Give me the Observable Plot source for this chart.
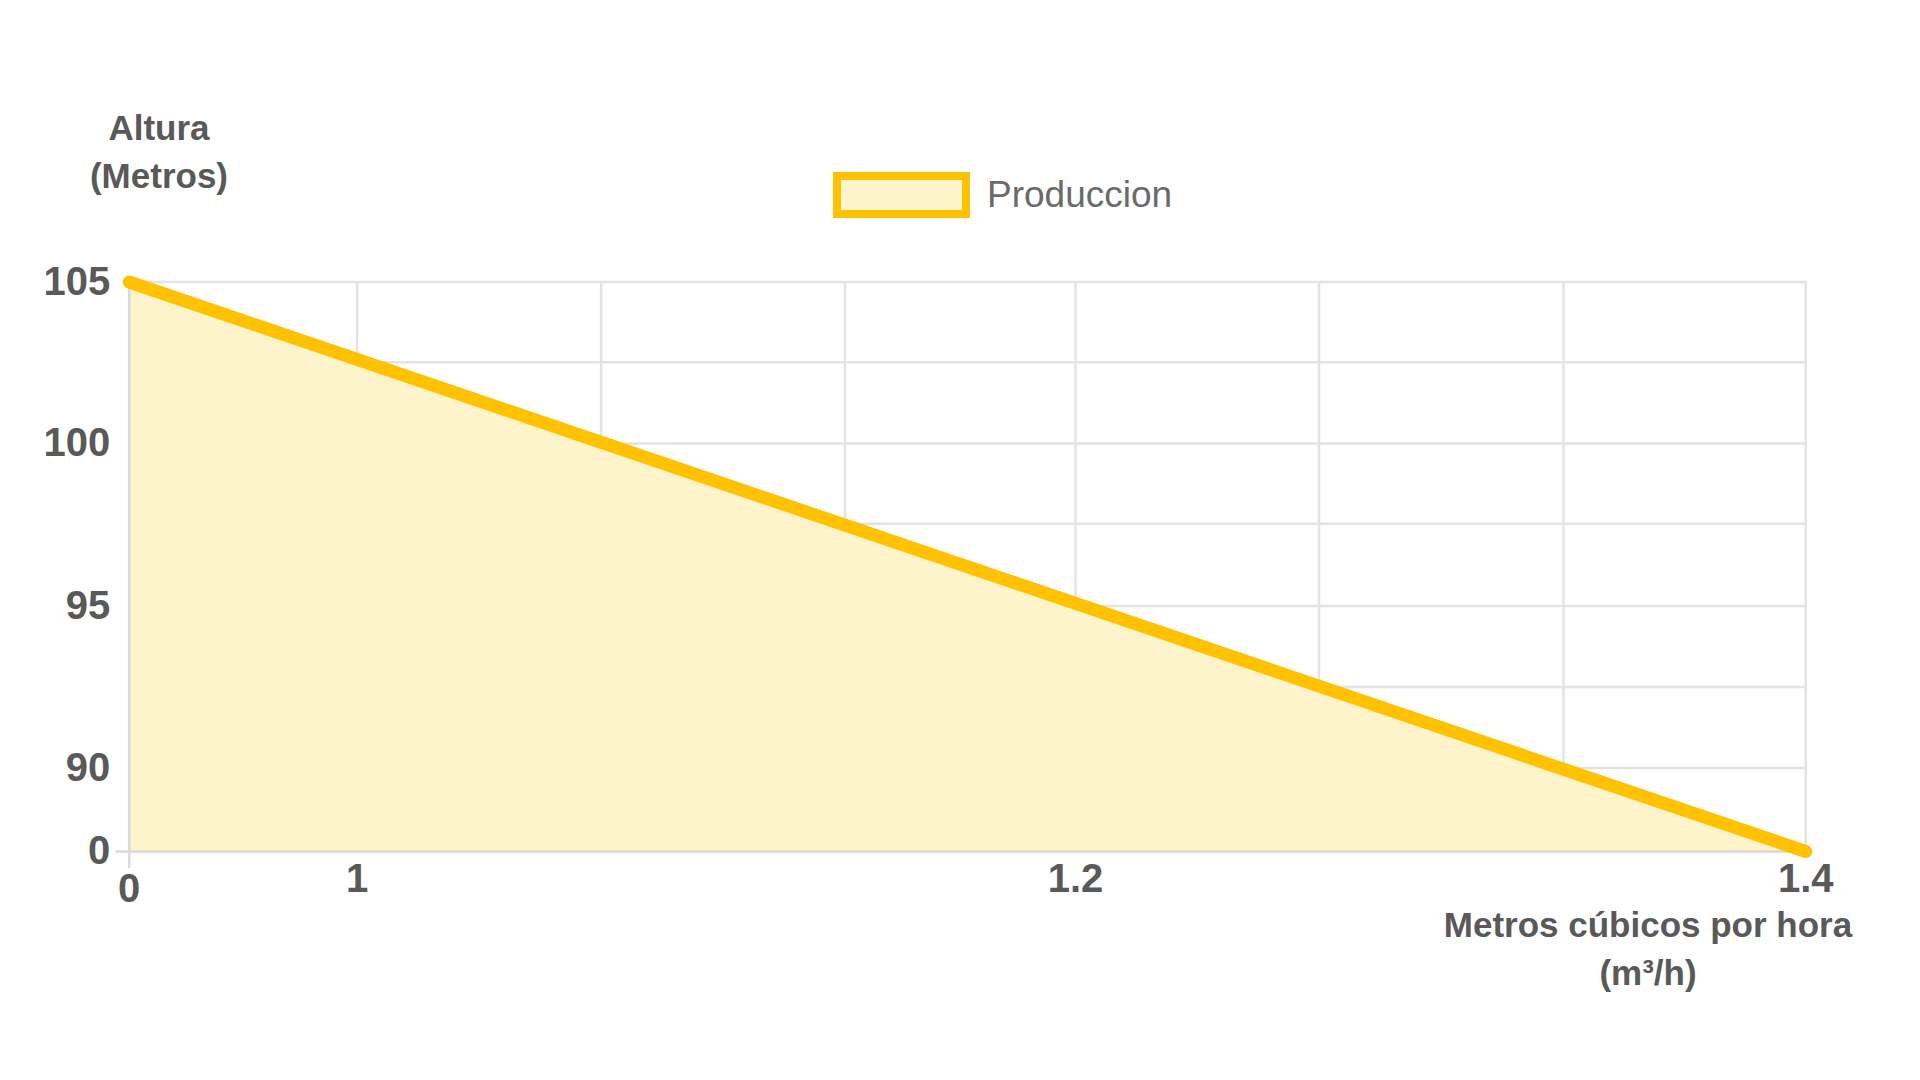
<!DOCTYPE html>
<html>
<head>
<meta charset="utf-8">
<script src="https://cdn.jsdelivr.net/npm/d3@7"></script>
<script src="https://cdn.jsdelivr.net/npm/@observablehq/plot@0.6"></script>
<style>
  body { margin: 0; background: #fff; }
  #wrap { position: relative; width: 1920px; height: 1080px; overflow: hidden;
          font-family: "Liberation Sans", Arial, Helvetica, sans-serif; color: #595959; }
  #chart { position: absolute; left: 0; top: 0; z-index: 1; }
  .t { position: absolute; z-index: 2; font-weight: bold; font-size: 35px; line-height: 48px;
       text-align: center; white-space: nowrap; transform: translateX(-50%); }
  #ytitle { left: 159px; top: 104px; }
  #xtitle { left: 1648px; top: 901px; }
  #legend { position: absolute; z-index: 2; left: 833px; top: 172px; display: flex; align-items: center; }
  #legend .sw { width: 137px; height: 46px; box-sizing: border-box; border: 8px solid #FFC200; background: #FEF4CC; }
  #legend .lb { margin-left: 17px; font-size: 37px; color: #6a6a6a; line-height: 46px; }
</style>
</head>
<body>
<div id="wrap">
  <div id="chart"></div>
  <div class="t" id="ytitle">Altura<br>(Metros)</div>
  <div id="legend"><div class="sw"></div><div class="lb"></div></div>
  <div class="t" id="xtitle">Metros cúbicos por hora<br>(m³/h)</div>
</div>
<script>
// ---- data ----
const serie = "Produccion";
const caudal = [0, 1.4];          // m³/h
const altura = [105, 0];          // metros
const xTicks = [0, 1, 1.2, 1.4];
const yTicks = [0, 90, 95, 100, 105];
const xGrid = [0, 1, 1.0667, 1.1333, 1.2, 1.2667, 1.3333, 1.4];
const yGrid = [0, 90, 92.5, 95, 97.5, 100, 102.5, 105];

const data = caudal.map((c, i) => ({caudal: c, altura: altura[i]}));

// ---- layout (pixel positions of the reference's uneven grid) ----
const xRange = [128.7, 356.6, 600.6, 844.5, 1075, 1318.5, 1563, 1805.3];
const yRange = [851, 767.5, 686.4, 605.6, 523.3, 443, 361.8, 281.5];

document.querySelector("#legend .lb").textContent = serie;

const fmt = d => String(d);
const gridStyle = {stroke: "#e3e3e3", strokeOpacity: 1, strokeWidth: 2.5};
const axisText = {tickSize: 0, fontSize: 40, fontWeight: "bold", label: null, tickFormat: fmt};

const chart = Plot.plot({
  width: 1920,
  height: 1080,
  marginLeft: 128.7,
  marginRight: 1920 - 1805.3,
  marginTop: 281.5,
  marginBottom: 1080 - 851,
  style: {fontFamily: '"Liberation Sans", Arial, Helvetica, sans-serif', color: "#595959", background: "transparent"},
  x: {type: "linear", domain: xGrid, range: xRange},
  y: {type: "linear", domain: yGrid, range: yRange},
  marks: [
    Plot.gridX(xGrid, gridStyle),
    Plot.gridY(yGrid, gridStyle),
    Plot.areaY(data, {x: "caudal", y: "altura", fill: "#FEF4CC"}),
    Plot.gridX([xTicks[0]], {stroke: "#dadada", strokeOpacity: 1, strokeWidth: 2.5}),
    Plot.gridY([yTicks[0]], {stroke: "#dadada", strokeOpacity: 1, strokeWidth: 2.5}),
    Plot.axisX([xTicks[0]], {tickSize: 17, stroke: "#dadada", strokeWidth: 2.5, tickFormat: () => "", label: null}),
    Plot.axisY([yTicks[0]], {tickSize: 13, stroke: "#dadada", strokeWidth: 2.5, tickFormat: () => "", label: null}),
    Plot.line(data, {x: "caudal", y: "altura", stroke: "#FFC200", strokeWidth: 13, strokeLinecap: "round", strokeLinejoin: "round"}),
    Plot.axisY(yTicks, {...axisText, tickPadding: 19}),
    Plot.axisX(xTicks.slice(1), {...axisText, tickPadding: 12}),
    Plot.axisX(xTicks.slice(0, 1), {...axisText, tickPadding: 22})
  ]
});
document.getElementById("chart").appendChild(chart);
</script>
</body>
</html>
